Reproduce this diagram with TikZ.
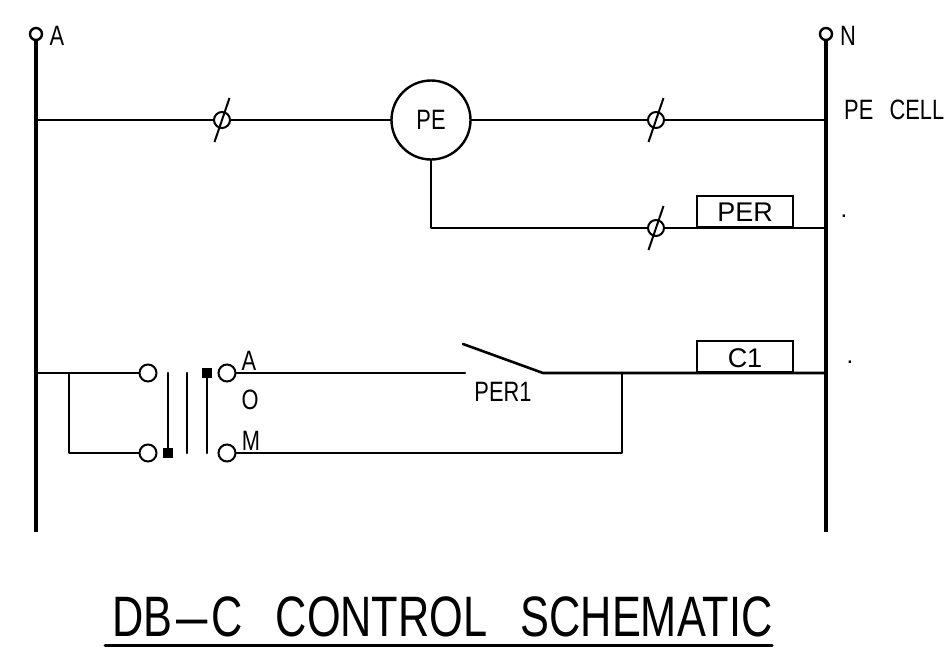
\documentclass[tikz,border=0pt]{standalone}
\usepackage{fontspec}
\setmainfont{Liberation Sans}
\newfontfamily\cadfont[FakeStretch=0.78]{Liberation Sans}
\newfontfamily\titlefont[FakeStretch=0.76]{Liberation Sans}
\usetikzlibrary{positioning}
\tikzset{
  wire/.style={line width=2.6pt, line cap=round, line join=round},
  bus/.style={line width=4pt},
  term/.style={draw, circle, line width=2pt, fill=white, inner sep=0pt, minimum size=17pt},
  busterm/.style={draw, circle, line width=2.4pt, fill=white, inner sep=0pt, minimum size=12pt},
  phibreak/.style={draw, circle, line width=2pt, inner sep=0pt, minimum size=16pt},
  coil/.style={draw, line width=2.4pt, inner sep=0pt, minimum width=96pt, minimum height=31pt},
  plate/.style={fill=black, inner sep=0pt, minimum size=10pt},
  cad/.style={inner sep=0pt, font=\cadfont\fontsize{28}{28}\selectfont},
  arial/.style={inner sep=0pt, font=\fontsize{27}{27}\selectfont},
  speck/.style={inner sep=0pt, font=\fontsize{24}{24}\selectfont}
}
\begin{document}
\begin{tikzpicture}[x=1pt, y=-1pt]
  \useasboundingbox (0,0) rectangle (944,653);

  % Supply lines
  \node[busterm] (termA) at (36,34) {};
  \node[busterm] (termN) at (826,34) {};
  \coordinate (endA) at (36,532);
  \coordinate (endN) at (826,532);
  \draw[bus] (termA) -- (endA);
  \draw[bus] (termN) -- (endN);
  \node[cad] (labelA) at (57,36) {A};
  \node[cad] (labelN) at (848,36) {N};

  % PE cell rung
  \node[draw, circle, line width=2.4pt, inner sep=0pt, minimum size=79pt] (pe) at (431,120) {};
  \node[cad] (peText) at (431,120) {PE};
  \node[phibreak] (breakA) at (222,120) {};
  \node[phibreak] (breakB) at (656,120) {};
  \coordinate (peA) at (36,120);
  \coordinate (peN) at (826,120);
  \draw[wire] (peA) -- (breakA) -- (pe) -- (breakB) -- (peN);
  \node[cad, anchor=west] (peCell) at (844,110) {PE\hspace{0.58em}CELL};

  % PER rung
  \node[phibreak] (breakC) at (656,228) {};
  \node[coil, anchor=south] (per) at (745,228) {};
  \node[arial] (perText) at (745,212) {PER};
  \coordinate (perBend) at (431,228);
  \coordinate (perN) at (826,228);
  \draw[wire] (pe) -- (perBend) -- (breakC) -- (per.south west) -- (per.south east) -- (perN);
  \node[speck] (dotA) at (844,216) {.};

  % Slashes through the breaks
  \foreach \b in {breakA,breakB,breakC} {
    \draw[line width=2pt] (\b) +(-7.5,22) -- +(7.5,-22);
  }

  % Photo contact rung
  \coordinate (ctlA) at (36,373);
  \coordinate (tee) at (69,373);
  \coordinate (teeLow) at (69,453);
  \node[term] (inTop) at (148,373) {};
  \node[term] (inLow) at (148,453) {};
  \node[term] (outTop) at (227,373) {};
  \node[term] (outLow) at (227,453) {};
  \draw[wire] (ctlA) -- (inTop);
  \draw[wire] (tee) -- (teeLow) -- (inLow);

  % Selector between the terminals
  \node[plate] (plateLow) at (168,453) {};
  \node[plate] (plateTop) at (207,373) {};
  \coordinate (barA) at (168,373);
  \coordinate (barB) at (187,373);
  \coordinate (barBLow) at (187,453);
  \coordinate (barC) at (207,453);
  \draw[wire] (barA) -- (plateLow);
  \draw[wire] (barB) -- (barBLow);
  \draw[wire] (plateTop) -- (barC);
  \node[cad] (modeA) at (249,361) {A};
  \node[cad] (modeO) at (250,400) {O};
  \node[cad] (modeM) at (251,441) {M};

  % Contact and C1 coil
  \coordinate (swLeft) at (465,373);
  \coordinate (swTip) at (463,344);
  \coordinate (swHinge) at (543,373);
  \coordinate (rise) at (622,373);
  \coordinate (riseLow) at (622,453);
  \coordinate (c1N) at (826,373);
  \node[coil, anchor=south] (c1) at (745,373) {};
  \node[arial] (c1Text) at (745,358) {C1};
  \draw[wire] (outTop) -- (swLeft);
  \draw[wire] (swTip) -- (swHinge) -- (rise) -- (c1.south west) -- (c1.south east) -- (c1N);
  \draw[wire] (rise) -- (riseLow) -- (outLow);
  \node[cad] (contactText) at (503,392) {PER1};
  \node[speck] (dotB) at (850,362) {.};

  % Title
  \node[inner sep=0pt, font=\titlefont\fontsize{57}{57}\selectfont] (title) at (442.5,617) {DB\hspace{0.07em}\scalebox{1.3}[1]{–}\hspace{0.07em}C\hspace{0.57em}CONTROL\hspace{0.58em}SCHEMATIC};
  \coordinate (ruleL) at (105,645);
  \coordinate (ruleR) at (772,645);
  \draw[line width=3pt, line cap=round] (ruleL) -- (ruleR);
\end{tikzpicture}
\end{document}
